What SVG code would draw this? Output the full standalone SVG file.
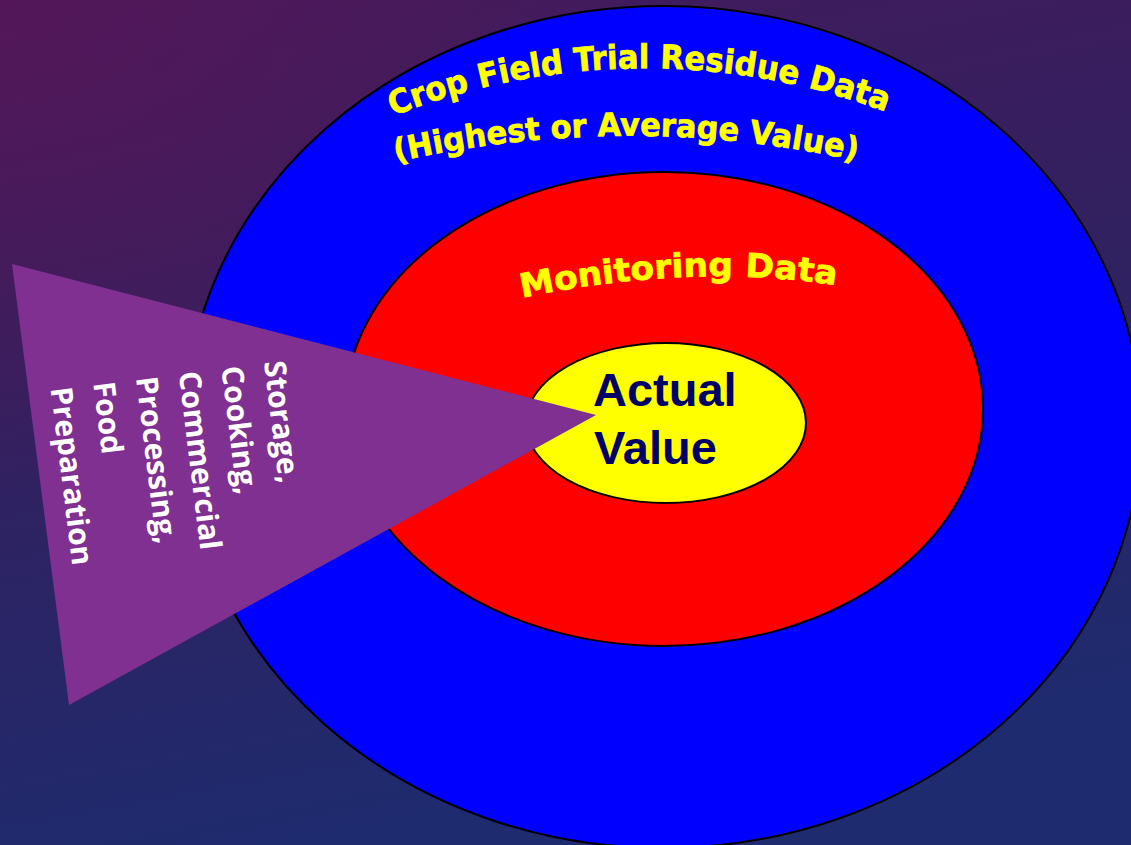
<svg xmlns="http://www.w3.org/2000/svg" width="1131" height="845" viewBox="0 0 1131 845">
<defs>
<linearGradient id="bg" x1="0" y1="0" x2="0.25" y2="1">
<stop offset="0" stop-color="#441a5c"/>
<stop offset="0.45" stop-color="#33205f"/>
<stop offset="1" stop-color="#1e2b6e"/>
</linearGradient>
<radialGradient id="glow" cx="0" cy="0" r="0.6">
<stop offset="0" stop-color="#5a1657" stop-opacity="0.7"/>
<stop offset="1" stop-color="#5a1657" stop-opacity="0"/>
</radialGradient>
<path id="arc1" d="M 393 116 A 689 689 0 0 1 897 116"/>
<path id="arc2" d="M 396 162 A 1052 1052 0 0 1 862 162"/>
<path id="arc3" d="M 522 298 Q 690 262 842 286"/>
</defs>
<style>
.ring{stroke:#000;stroke-width:2}
.yl{fill:#ffff00;stroke:#ffff00;stroke-width:0.7;font-family:"DejaVu Sans","Liberation Sans",sans-serif;font-weight:bold}
.wt{fill:#ffffff;font-family:"Open Sans","Liberation Sans",sans-serif;font-weight:700;font-size:30px}
.av{fill:#000066;font-family:"Liberation Sans",Arial,sans-serif;font-weight:bold;font-size:47px}
</style>
<rect width="1131" height="845" fill="url(#bg)"/>
<rect width="1131" height="845" fill="url(#glow)"/>
<g id="outer">
<ellipse class="ring" cx="663" cy="427" rx="478" ry="421" fill="#0000ff"/>
<text class="yl" font-size="33"><textPath href="#arc1" textLength="504" lengthAdjust="spacingAndGlyphs">Crop Field Trial Residue Data</textPath></text>
<text class="yl" font-size="32"><textPath href="#arc2" textLength="464" lengthAdjust="spacingAndGlyphs">(Highest or Average Value)</textPath></text>
</g>
<g id="middle">
<ellipse class="ring" cx="664" cy="409" rx="319" ry="237" fill="#ff0000" stroke-width="1.5"/>
<text class="yl" font-size="33"><textPath href="#arc3" textLength="316" lengthAdjust="spacingAndGlyphs">Monitoring Data</textPath></text>
</g>
<g id="inner">
<ellipse class="ring" cx="666" cy="423" rx="140" ry="80" fill="#ffff00" stroke-width="1.5"/>
<text class="av" x="593" y="406">Actual</text>
<text class="av" x="594" y="464">Value</text>
</g>
<g id="wedge">
<polygon points="12,264 69,705 596,415" fill="#7f3090"/>
<g transform="translate(264,362) rotate(83)">
<text class="wt" x="0" y="0">Storage,</text>
<text class="wt" x="0" y="43">Cooking,</text>
<text class="wt" x="0" y="86">Commercial</text>
<text class="wt" x="0" y="129">Processing,</text>
<text class="wt" x="0" y="172">Food</text>
<text class="wt" x="0" y="215">Preparation</text>
</g>
</g>
<g id="connectors"/>
</svg>
